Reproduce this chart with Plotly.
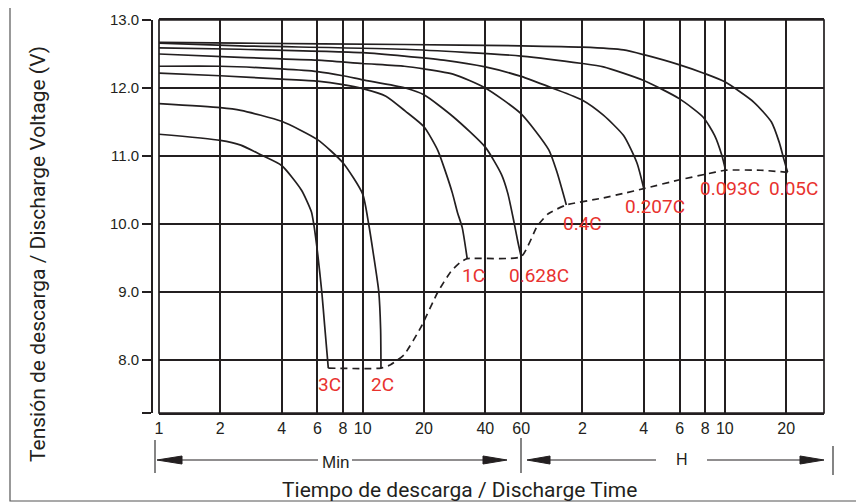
import math
import plotly.graph_objects as go

# ---------------- data (time in minutes, voltage in V) ----------------
t_3C = [1, 2, 2.52, 3.2, 4, 5.0, 5.6, 5.75, 6.02, 6.3, 6.5, 6.78]
v_3C = [11.32, 11.23, 11.16, 11.01, 10.86, 10.5, 10.18, 10.0, 9.55, 9.0, 8.52, 7.88]

t_2C = [1, 2, 2.52, 4, 6, 8, 10, 10.7, 11.3, 12.0, 12.25, 12.3]
v_2C = [11.77, 11.71, 11.67, 11.51, 11.24, 10.9, 10.44, 10.0, 9.55, 9.0, 8.45, 7.88]

t_1C = [1, 2, 4, 6, 8, 10, 13, 16.2, 20, 23.4, 25.5, 27.6, 29.2, 30.8, 32.6]
v_1C = [12.22, 12.18, 12.13, 12.1, 12.05, 11.99, 11.88, 11.66, 11.43, 11.08, 10.77, 10.45, 10.17, 9.95, 9.49]

t_0628C = [1, 2, 4, 6, 8, 10, 16.2, 20, 28, 40, 48, 51.6, 55.4, 57.7, 60]
v_0628C = [12.32, 12.32, 12.28, 12.24, 12.18, 12.12, 12.0, 11.9, 11.57, 11.13, 10.73, 10.45, 10.02, 9.75, 9.52]

t_04C = [1, 2.5, 6, 10, 16, 20, 28, 40, 60, 82, 90, 100]
v_04C = [12.5, 12.45, 12.41, 12.36, 12.32, 12.28, 12.2, 12.0, 11.62, 11.09, 10.76, 10.28]

t_0207C = [1, 2.5, 10, 16, 25, 40, 60, 85, 120, 152, 191, 222, 240]
v_0207C = [12.59, 12.57, 12.52, 12.47, 12.41, 12.31, 12.17, 12.0, 11.82, 11.6, 11.3, 10.9, 10.52]

t_0093C = [1, 2.5, 16, 60, 120, 152, 240, 360, 470, 535, 580, 605]
v_0093C = [12.66, 12.62, 12.57, 12.47, 12.36, 12.31, 12.11, 11.84, 11.57, 11.3, 11.01, 10.79]

t_005C = [1, 2.5, 16, 60, 120, 191, 240, 360, 480, 600, 834, 1016, 1110, 1170, 1220]
v_005C = [12.67, 12.66, 12.64, 12.62, 12.6, 12.56, 12.49, 12.34, 12.21, 12.09, 11.79, 11.5, 11.2, 10.95, 10.76]

t_end = [6.78, 12.3, 13.7, 16.0, 19.3, 23.4, 27.1, 30, 32.6, 60, 72, 81.5, 100, 150, 191, 240, 360, 480, 605, 900, 1220]
v_end = [7.88, 7.88, 7.93, 8.08, 8.48, 9.0, 9.30, 9.43, 9.49, 9.52, 9.97, 10.15, 10.28, 10.38, 10.45, 10.52, 10.65, 10.73, 10.79, 10.79, 10.76]

rate_labels = ["3C", "2C", "1C", "0.628C", "0.4C", "0.207C", "0.093C", "0.05C"]
curves_t = [t_3C, t_2C, t_1C, t_0628C, t_04C, t_0207C, t_0093C, t_005C]
curves_v = [v_3C, v_2C, v_1C, v_0628C, v_04C, v_0207C, v_0093C, v_005C]

x_tickvals = [1, 2, 4, 6, 8, 10, 20, 40, 60, 120, 240, 360, 480, 600, 1200]
x_ticktext = ["1", "2", "4", "6", "8", "10", "20", "40", "60", "2", "4", "6", "8", "10", "20"]
y_tickvals = [7.22, 8, 9, 10, 11, 12, 13]
y_ticktext = ["", "8.0", "9.0", "10.0", "11.0", "12.0", "13.0"]
x_max = 1841

# ---------------- layout helpers ----------------
W, H = 864, 504
OFF = 8                       # page body margin
PL, PR, PT, PB = 159, 824, 20, 413   # plot area in screen pixels
AXL = 100                     # left edge of the margin area in screen pixels
ML = AXL - OFF
MT = PT - OFF
MR = W - (PR - OFF)
MB = H - (PB - OFF)
PW = W - ML - MR
PH = H - MT - MB


def px(x):
    return (x - OFF - ML) / PW


def py(y):
    return ((PB - OFF) - (y - OFF)) / PH


INK = "#231f20"
RED = "#e8322e"
COND = "Roboto, Liberation Sans, sans-serif"
SANS = "Liberation Sans, Arial, sans-serif"

fig = go.Figure()

for t, v in zip(curves_t, curves_v):
    fig.add_trace(go.Scatter(x=t, y=v, mode="lines",
                             line=dict(color=INK, width=1.7, shape="spline", smoothing=0.6),
                             hoverinfo="skip", showlegend=False))

fig.add_trace(go.Scatter(x=t_end, y=v_end, mode="lines",
                         line=dict(color=INK, width=1.7, dash="7px,5px", shape="spline", smoothing=0.5),
                         hoverinfo="skip", showlegend=False))

# label offsets relative to curve end points (pixels)
offs = [(1, -16), (2, -16), (6, -17), (18, -19), (16, -19), (11, -18), (4, -18), (6, -16)]
for lab, t, v, (dx, dy) in zip(rate_labels, curves_t, curves_v, offs):
    fig.add_annotation(x=math.log10(t[-1]), y=v[-1], xref="x", yref="y", text=lab,
                       showarrow=False, xshift=dx, yshift=dy, xanchor="center", yanchor="middle",
                       font=dict(family=COND, size=19, color=RED))

shapes = []
# plot frame
shapes.append(dict(type="rect", xref="paper", yref="paper", x0=px(PL), x1=1, y0=0, y1=1,
                   line=dict(color=INK, width=1.7), layer="above"))
# outer frame
shapes.append(dict(type="rect", xref="paper", yref="paper", x0=px(10), x1=px(858), y0=py(501), y1=py(6),
                   line=dict(color="#555555", width=1.2), layer="below"))
# bracket bars
for bx, y0, y1 in [(155, 440, 473), (521, 438, 473), (833, 446, 475)]:
    shapes.append(dict(type="line", xref="paper", yref="paper", x0=px(bx), x1=px(bx), y0=py(y0), y1=py(y1),
                       line=dict(color="#333333", width=1.2)))
# arrow shafts
for x0, x1 in [(180, 318), (352, 485), (548, 656), (707, 802)]:
    shapes.append(dict(type="line", xref="paper", yref="paper", x0=px(x0), x1=px(x1), y0=py(460), y1=py(460),
                       line=dict(color=INK, width=1.1)))
# arrow heads
for tip, base in [(157, 182), (507, 483), (527, 550), (824, 800)]:
    path = "M {},{} L {},{} L {},{} Z".format(px(tip), py(460), px(base), py(456), px(base), py(464))
    shapes.append(dict(type="path", xref="paper", yref="paper", path=path,
                       fillcolor=INK, line=dict(color=INK, width=1)))

ann_common = dict(xref="paper", yref="paper", showarrow=False, xanchor="center", yanchor="middle")
fig.add_annotation(x=px(335), y=py(462), text="Min",
                   font=dict(family=SANS, size=17, color=INK), **ann_common)
fig.add_annotation(x=px(682), y=py(459), text="H",
                   font=dict(family=SANS, size=16, color=INK), **ann_common)
fig.add_annotation(x=px(459), y=py(490), text="Tiempo de descarga / Discharge Time",
                   font=dict(family=COND, size=21, color=INK), **ann_common)
fig.add_annotation(x=px(38), y=py(254), textangle=-90,
                   text="Tensión de descarga / Discharge Voltage (V)",
                   font=dict(family=COND, size=21, color=INK), **ann_common)

fig.update_layout(
    template="none",
    width=W, height=H,
    margin=dict(l=ML, r=MR, t=MT, b=MB, pad=0, autoexpand=False),
    paper_bgcolor="white", plot_bgcolor="white",
    showlegend=False,
    shapes=shapes,
    xaxis=dict(type="log", range=[0, math.log10(x_max)], domain=[px(PL), 1], automargin=False,
               tickvals=x_tickvals, ticktext=x_ticktext, ticks="",
               showgrid=True, gridcolor=INK, gridwidth=1.6, zeroline=False,
               showline=True, linecolor=INK, linewidth=1.7, mirror=True,
               tickfont=dict(family=SANS, size=16, color=INK)),
    yaxis=dict(range=[7.22, 13.0], anchor="free", position=px(152), automargin=False,
               tickvals=y_tickvals, ticktext=y_ticktext,
               ticks="outside", ticklen=9, tickwidth=1.6, tickcolor=INK,
               showline=True, linecolor=INK, linewidth=1.6,
               showgrid=True, gridcolor=INK, gridwidth=1.6, zeroline=False,
               tickfont=dict(family=SANS, size=15, color=INK)),
)

fig.write_html("out.html")
